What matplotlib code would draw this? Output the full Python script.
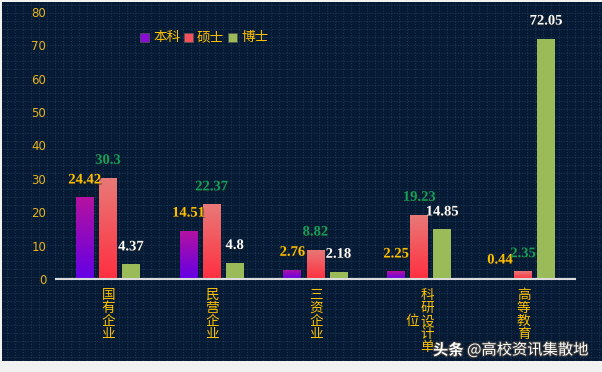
import numpy as np
import matplotlib
matplotlib.use('Agg')
import matplotlib.pyplot as plt
from matplotlib.patches import Rectangle
from matplotlib.colors import LinearSegmentedColormap
import matplotlib.patheffects as pe

plt.rcParams['font.family'] = ['Noto Sans CJK SC', 'DejaVu Sans']

# ---------------- data ----------------
categories = ['国有企业', '民营企业', '三资企业', '科研设计单位', '高等教育']
series_names = ['本科', '硕士', '博士']
bachelor = [24.42, 14.51, 2.76, 2.25, 0.44]
master = [30.3, 22.37, 8.82, 19.23, 2.35]
doctor = [4.37, 4.8, 2.18, 14.85, 72.05]
y_ticks = [0, 10, 20, 30, 40, 50, 60, 70, 80]
watermark_a = '头条'
watermark_b = '@高校资讯集散地'

# ---------------- styles ----------------
W, H, DPI = 602, 372, 100
bar_grads = [('#b5129f', '#6300e6'), ('#e87a78', '#ff2f40'), ('#9bbb59', '#9bbb59')]
legend_colors = ['#8a0ad8', '#f5505c', '#9bbb59']
label_colors = ['#ffc000', '#12a05a', '#ffffff']
gold = '#ffc000'

def fx(px):
    return px / W

def fy(py):
    return 1 - py / H

fig = plt.figure(figsize=(W / DPI, H / DPI), dpi=DPI, facecolor='#f2f2f2')

# dark background panel with dotted grid pattern
bg = fig.add_axes([fx(2), fy(361), (600) / W, (361 - 2) / H], zorder=0)
bg.set_facecolor('#071a33')
bg.set_xlim(0, 600)
bg.set_ylim(359, 0)
bg.set_xticks(np.arange(5, 600, 8))
bg.set_yticks(np.arange(3, 359, 8))
bg.tick_params(length=0, labelbottom=False, labelleft=False)
bg.grid(True, color='#1b3757', lw=0.8, ls=(0, (1, 1.5)))
for s in bg.spines.values():
    s.set_visible(False)

# main axes
ax = fig.add_axes([fx(56), fy(279), (575 - 56) / W, (279 - 12) / H], zorder=2)
ax.set_facecolor('none')

x = np.arange(len(categories))
offsets = [-0.222, 0.0, 0.222]
width = 0.173
grad = np.linspace(0, 1, 256).reshape(-1, 1)

for k, vals in enumerate([bachelor, master, doctor]):
    bars = ax.bar(x + offsets[k], vals, width=width, facecolor='none',
                  edgecolor='none', zorder=2)
    top_c, bot_c = bar_grads[k]
    cmap = LinearSegmentedColormap.from_list('g%d' % k, [bot_c, top_c])
    for b in bars:
        x0, y0 = b.get_x(), b.get_y()
        im = ax.imshow(grad, extent=[x0, x0 + b.get_width(), y0, y0 + b.get_height()],
                       origin='lower', cmap=cmap, aspect='auto', zorder=2,
                       interpolation='bilinear')
        im.set_clip_path(b)
    for xi, v in zip(x + offsets[k], vals):
        ax.annotate(str(v), (xi, v), xytext=(0, 17.5), textcoords='offset pixels',
                    ha='center', va='center', fontsize=10.5, fontweight='bold',
                    family='Liberation Serif', color=label_colors[k], zorder=4,
                    path_effects=[pe.withSimplePatchShadow(offset=(0.8, -0.8),
                                                           shadow_rgbFace='#202020',
                                                           alpha=0.6)])

ax.set_xlim(-0.5, len(categories) - 0.5)
ax.set_ylim(y_ticks[0], y_ticks[-1])
ax.set_yticks(y_ticks)
ax.set_xticks([])
ax.tick_params(axis='y', length=0, pad=7, labelcolor='#e8b420', labelsize=8.5)
for lab in ax.get_yticklabels():
    lab.set_family('DejaVu Sans')
for s in ['left', 'top', 'right']:
    ax.spines[s].set_visible(False)
ax.spines['bottom'].set_color('#dcdcdc')
ax.spines['bottom'].set_linewidth(1.5)

# vertical category labels (columns of up to 5 chars, right to left)
for i, cat in enumerate(categories):
    cols = [cat[k:k + 5] for k in range(0, len(cat), 5)]
    nrows = max(len(c) for c in cols)
    ncol = len(cols)
    for ci, col in enumerate(cols):
        xoff = ((ncol - 1) / 2 - ci) * 15.5
        r0 = (nrows - len(col)) / 2
        for ri, ch in enumerate(col):
            ax.annotate(ch, (i, 0), xycoords='data',
                        xytext=(xoff + 0.5, -(16 + (r0 + ri) * 13)),
                        textcoords='offset pixels', ha='center', va='center',
                        fontsize=9.8, color=gold, annotation_clip=False)

# legend (manual)
leg_x = [140, 184, 228]
for name, col, lx in zip(series_names, legend_colors, leg_x):
    fig.patches.append(Rectangle((fx(lx), fy(42)), 9 / W, 9 / H,
                                 transform=fig.transFigure, facecolor=col,
                                 edgecolor='#555555', lw=0.5, zorder=5))
    fig.text(fx(lx + 13), fy(37.5), name, fontsize=9.8, color=gold,
             ha='left', va='center', zorder=5)

# watermark
shadow = [pe.withStroke(linewidth=1.6, foreground='#3a3a3a')]
fig.text(fx(433), fy(350), watermark_a, fontsize=11, color='white',
         fontweight='bold', ha='left', va='center', zorder=6, path_effects=shadow)
fig.text(fx(467), fy(350), watermark_b, fontsize=11, color='white',
         ha='left', va='center', zorder=6, path_effects=shadow)

fig.savefig('out.png', dpi=DPI, facecolor=fig.get_facecolor())
